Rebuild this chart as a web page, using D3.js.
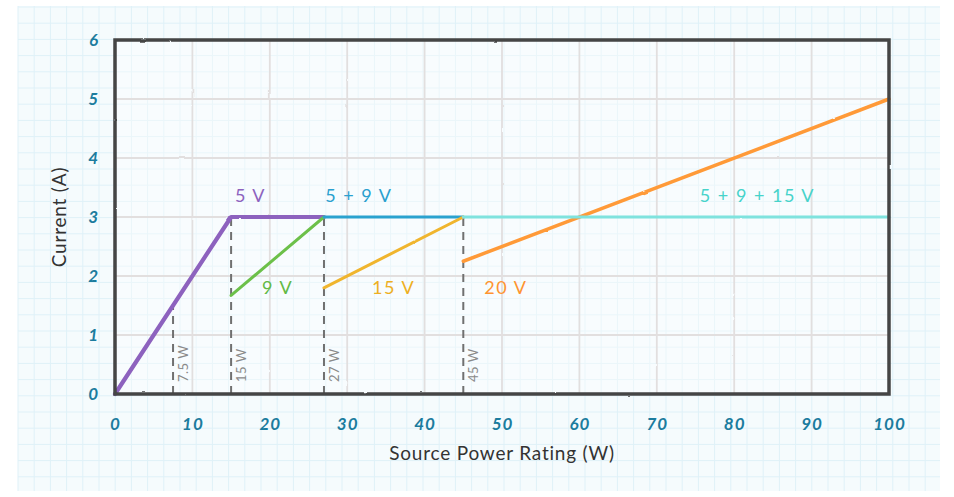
<!DOCTYPE html>
<html>
<head>
<meta charset="utf-8">
<script src="https://cdn.jsdelivr.net/npm/d3@7"></script>
<style>
  html, body { margin: 0; padding: 0; background: #fff; }
  svg { display: block; font-family: Lato, "DejaVu Sans", sans-serif; }
</style>
</head>
<body>
<svg id="chart" width="954" height="497"></svg>
<script>
// data
const xTicks = [0, 10, 20, 30, 40, 50, 60, 70, 80, 90, 100];
const yTicks = [0, 1, 2, 3, 4, 5, 6];
const seriesNames = ['5 V', '9 V', '5 + 9 V', '15 V', '20 V', '5 + 9 + 15 V'];
const seriesPoints = [
  [[0, 0], [15, 3], [27, 3]],
  [[15, 1.67], [27, 3]],
  [[27, 3], [45, 3]],
  [[27, 1.8], [45, 3]],
  [[45, 2.25], [100, 5]],
  [[45, 3], [100, 3]],
];
const markerWatts = [7.5, 15, 27, 45];
const markerTops = [1.5, 3, 3, 3];
const markerLabels = ['7.5 W', '15 W', '27 W', '45 W'];

// styles / layout
const seriesColors = ['#8d62be', '#6cc04a', '#2ba2cf', '#f0b52d', '#ff9a38', '#7fe3de'];
const labelColors  = ['#8d62be', '#62b944', '#2aa0cf', '#eeaf22', '#ff9430', '#47d3ca'];
const seriesWidths = [4.2, 3, 3, 3, 3.5, 3];
// label anchor in data units
const labelAt = [[17.5, 3.25], [21, 1.7], [31.5, 3.25], [36, 1.7], [50.5, 1.7], [83, 3.25]];

const svg = d3.select('#chart');
const W = 954, H = 497;
const margin = { left: 115, right: 65, top: 40, bottom: 103 };

const x = d3.scaleLinear().domain([0, 100]).range([margin.left, W - margin.right]);
const y = d3.scaleLinear().domain([0, 6]).range([H - margin.bottom, margin.top]);

// rough hand-drawn filter
const defs = svg.append('defs');
const f = defs.append('filter').attr('id', 'rough')
  .attr('filterUnits', 'userSpaceOnUse')
  .attr('x', 0).attr('y', 0).attr('width', W).attr('height', H);
f.append('feTurbulence').attr('type', 'fractalNoise').attr('baseFrequency', 0.08)
  .attr('numOctaves', 2).attr('seed', 3).attr('result', 'noise');
f.append('feDisplacementMap').attr('in', 'SourceGraphic').attr('in2', 'noise')
  .attr('scale', 1.6).attr('xChannelSelector', 'R').attr('yChannelSelector', 'G');

// grid paper background
const paper = { x0: 18, y0: 6, x1: 940, y1: 491, step: 16.2 };
svg.append('rect')
  .attr('x', paper.x0).attr('y', paper.y0)
  .attr('width', paper.x1 - paper.x0).attr('height', paper.y1 - paper.y0)
  .attr('fill', '#f5fbfd');
const paperG = svg.append('g').attr('stroke', '#dff1f8').attr('stroke-width', 1);
d3.range(paper.x0, paper.x1 + 1, paper.step).forEach(px => {
  paperG.append('line').attr('x1', px).attr('x2', px).attr('y1', paper.y0).attr('y2', paper.y1);
});
d3.range(paper.y0 + 1, paper.y1 + 1, paper.step).forEach(py => {
  paperG.append('line').attr('x1', paper.x0).attr('x2', paper.x1).attr('y1', py).attr('y2', py);
});

// plot area tint
svg.append('rect')
  .attr('x', x(0)).attr('y', y(6))
  .attr('width', x(100) - x(0)).attr('height', y(0) - y(6))
  .attr('fill', '#ffffff').attr('opacity', 0.35);

// major gridlines
const grid = svg.append('g').attr('stroke', '#e2dfdf').attr('stroke-width', 1.8)
  .attr('filter', 'url(#rough)');
grid.selectAll('.gx').data(xTicks.slice(1, -1)).join('line').attr('class', 'gx')
  .attr('x1', d => x(d)).attr('x2', d => x(d)).attr('y1', y(0)).attr('y2', y(6));
grid.selectAll('.gy').data(yTicks.slice(1, -1)).join('line').attr('class', 'gy')
  .attr('y1', d => y(d)).attr('y2', d => y(d)).attr('x1', x(0)).attr('x2', x(100));

// dashed power markers
svg.append('g').selectAll('line').data(markerWatts).join('line')
  .attr('x1', d => x(d)).attr('x2', d => x(d))
  .attr('y1', y(0)).attr('y2', (d, i) => y(markerTops[i]))
  .attr('stroke', '#707070').attr('stroke-width', 2)
  .attr('stroke-dasharray', '8,6');
svg.append('g').selectAll('text').data(markerLabels).join('text')
  .attr('transform', (d, i) => `translate(${x(markerWatts[i]) + 15},${y(0) - 12}) rotate(-90)`)
  .attr('font-size', 13)
  .attr('fill', '#8a8a8a')
  .attr('letter-spacing', 0.5)
  .text(d => d);

// series lines
const line = d3.line().x(d => x(d[0])).y(d => y(d[1]));
svg.append('g').attr('filter', 'url(#rough)')
  .selectAll('path').data(seriesPoints).join('path')
  .attr('d', line)
  .attr('fill', 'none')
  .attr('stroke', (d, i) => seriesColors[i])
  .attr('stroke-width', (d, i) => seriesWidths[i])
  .attr('stroke-linecap', 'round')
  .attr('stroke-linejoin', 'round');

// series labels
svg.append('g').selectAll('text').data(seriesNames).join('text')
  .attr('x', (d, i) => x(labelAt[i][0]))
  .attr('y', (d, i) => y(labelAt[i][1]))
  .attr('fill', (d, i) => labelColors[i])
  .attr('font-size', 18)
  .attr('text-anchor', 'middle')
  .attr('letter-spacing', 1.5)
  .text(d => d);

// frame
svg.append('rect')
  .attr('x', x(0)).attr('y', y(6))
  .attr('width', x(100) - x(0)).attr('height', y(0) - y(6))
  .attr('fill', 'none').attr('stroke', '#454545').attr('stroke-width', 3.5)
  .attr('filter', 'url(#rough)');

// axes (tick labels only)
const xAxis = svg.append('g')
  .attr('transform', `translate(0,${y(0)})`)
  .call(d3.axisBottom(x).tickValues(xTicks).tickFormat(d3.format('d')).tickSize(0).tickPadding(24));
const yAxis = svg.append('g')
  .attr('transform', `translate(${x(0)},0)`)
  .call(d3.axisLeft(y).tickValues(yTicks).tickFormat(d3.format('d')).tickSize(0).tickPadding(16));
[xAxis, yAxis].forEach(a => {
  a.select('.domain').remove();
  a.selectAll('text')
    .attr('fill', '#1b7c9e')
    .attr('font-size', 17)
    .attr('font-style', 'italic')
    .attr('font-weight', 'bold')
    .attr('letter-spacing', 1)
    .style('font-family', 'Lato, "DejaVu Sans", sans-serif');
});

// axis titles
svg.append('text')
  .attr('x', (x(0) + x(100)) / 2).attr('y', 460)
  .attr('text-anchor', 'middle')
  .attr('font-size', 19)
  .attr('fill', '#333')
  .attr('letter-spacing', 0.8)
  .text('Source Power Rating (W)');
svg.append('text')
  .attr('transform', `translate(66,${y(3)}) rotate(-90)`)
  .attr('text-anchor', 'middle')
  .attr('font-size', 19)
  .attr('fill', '#333')
  .attr('letter-spacing', 0.8)
  .text('Current (A)');
</script>
</body>
</html>
